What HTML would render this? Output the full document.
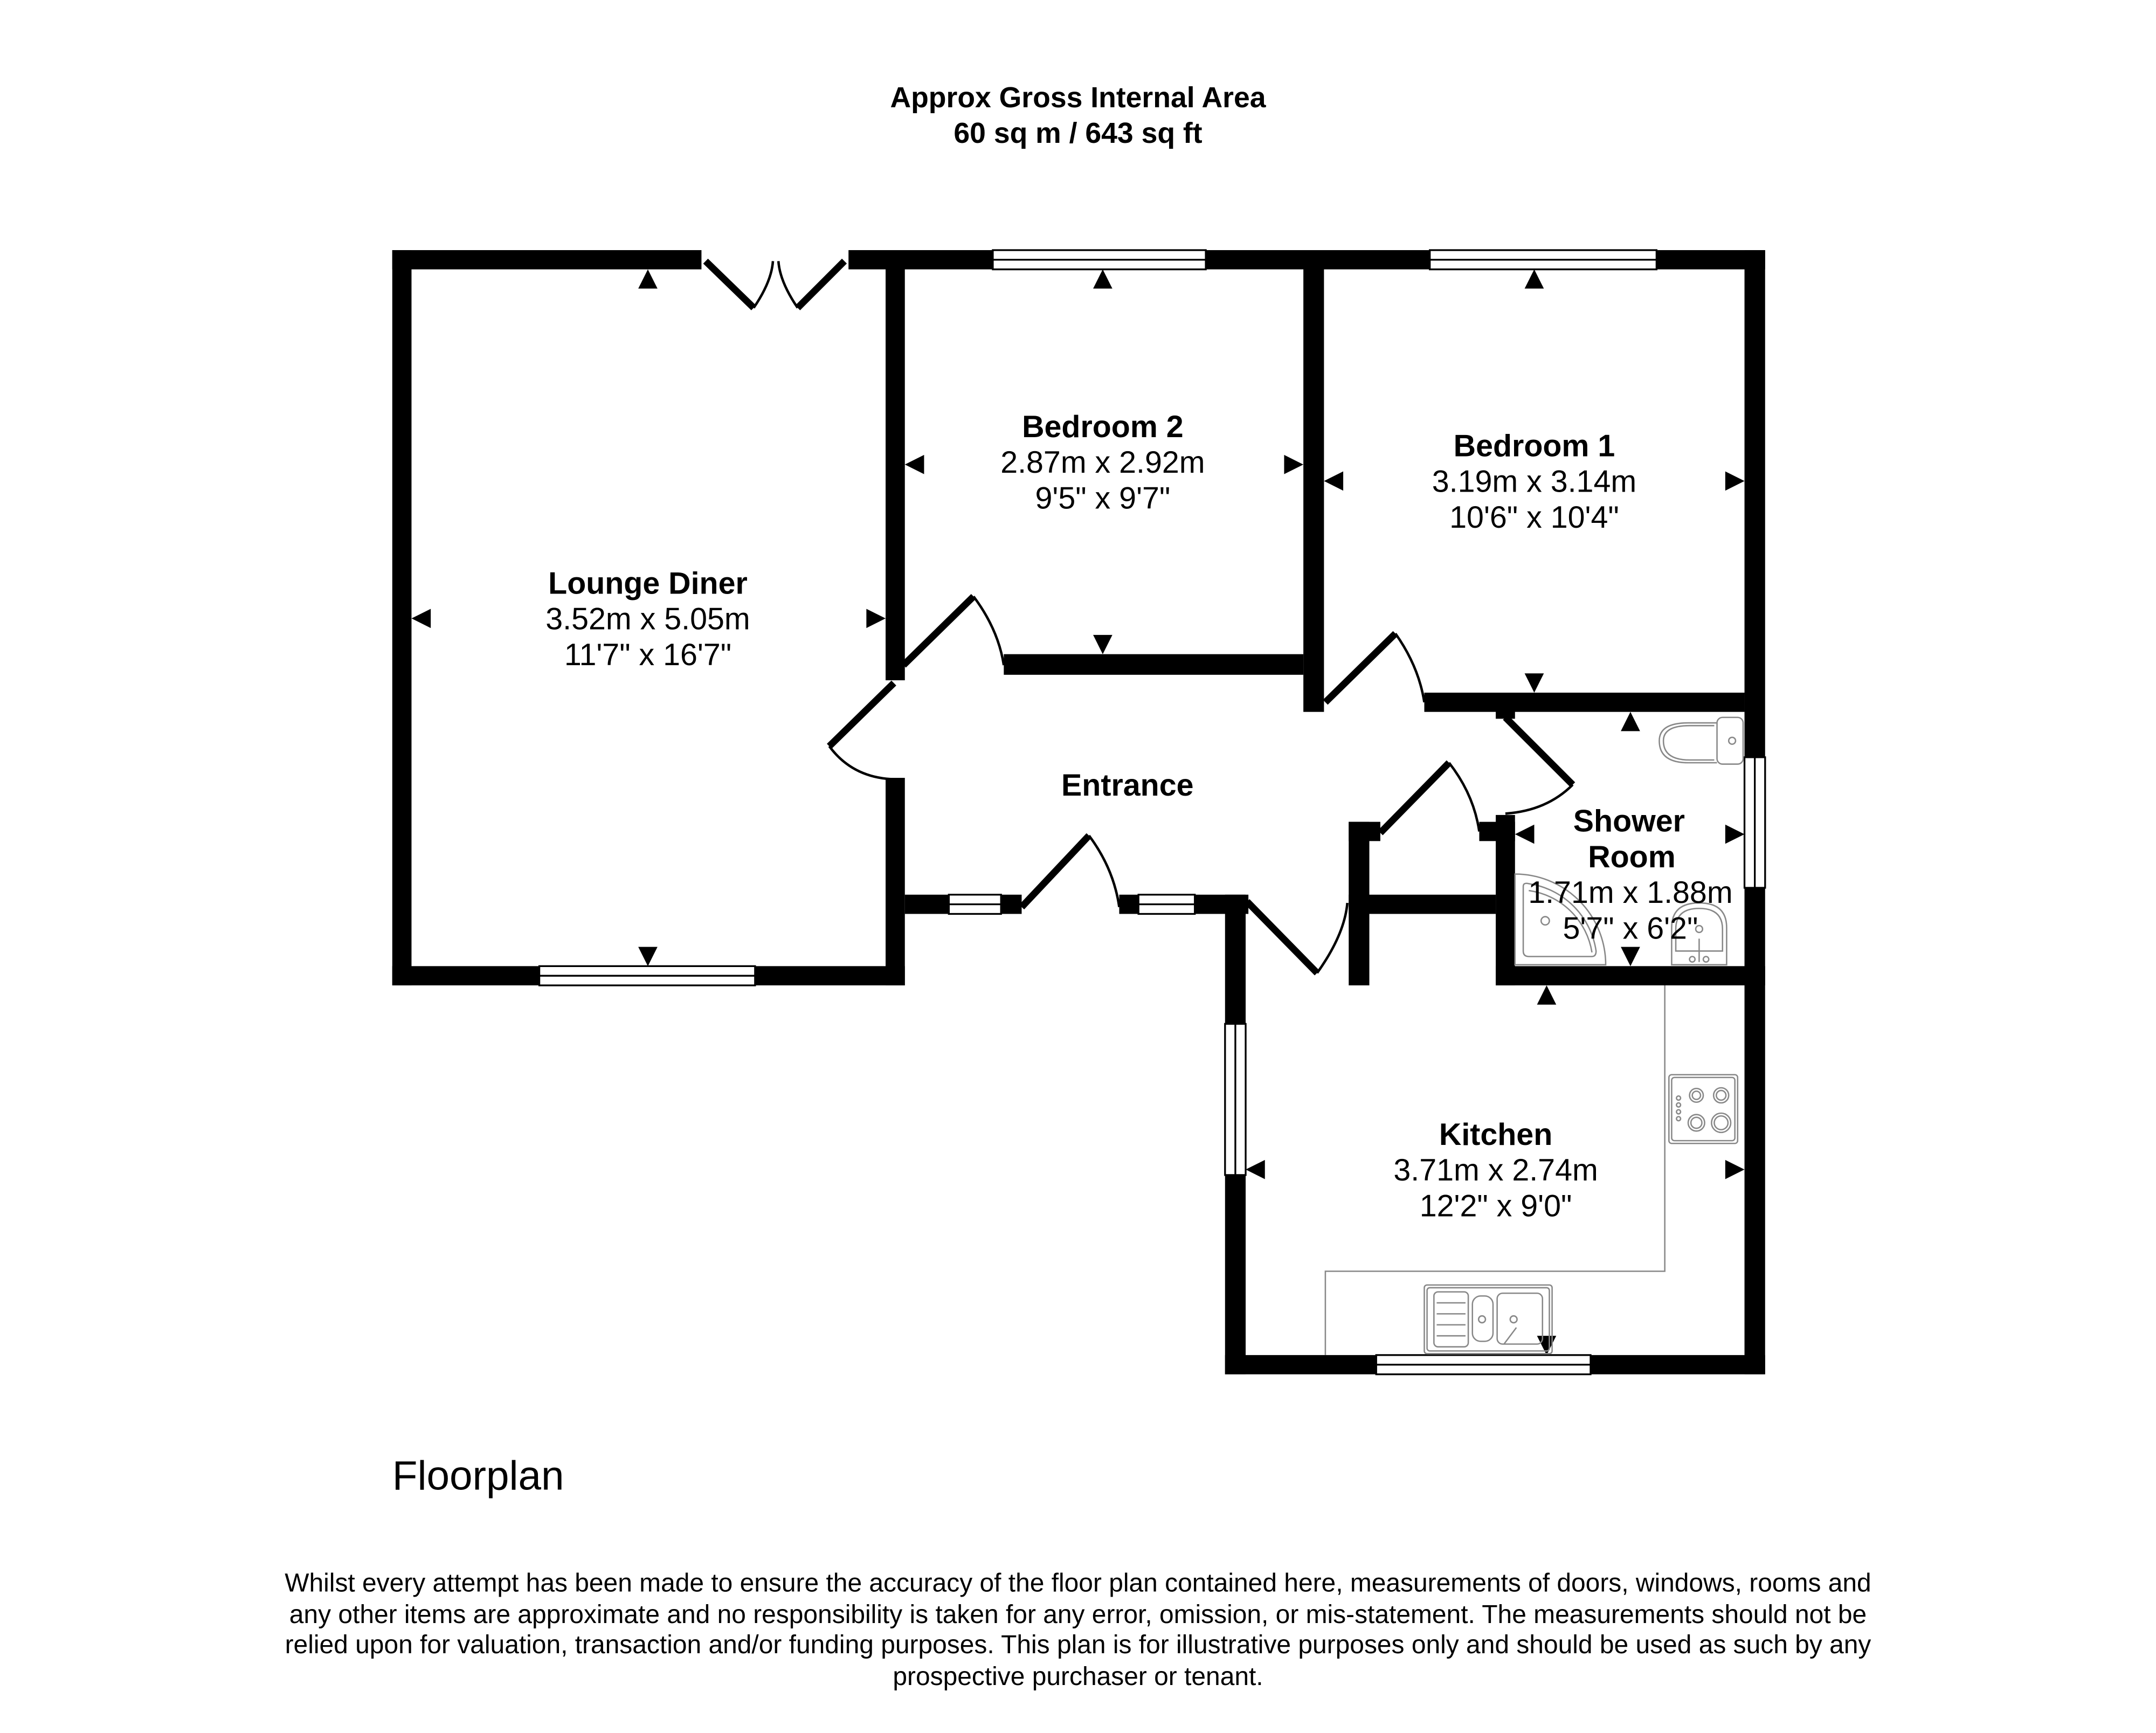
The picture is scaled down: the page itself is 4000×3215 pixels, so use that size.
<!DOCTYPE html>
<html><head><meta charset="utf-8"><style>
html,body{margin:0;padding:0;background:#fff;}
svg{display:block;}
text{font-family:"Liberation Sans",Arial,sans-serif;}
</style></head><body>
<svg width="4000" height="3215" viewBox="0 0 1568 1261" xmlns="http://www.w3.org/2000/svg">
<rect width="1568" height="1261" fill="#fff"/>
<text x="784" y="78" font-size="21" font-weight="bold" text-anchor="middle">Approx Gross Internal Area</text>
<text x="784" y="104" font-size="21" font-weight="bold" text-anchor="middle">60 sq m / 643 sq ft</text>

<g fill="#000">
<rect x="285" y="182" width="225" height="14"/>
<rect x="617" y="182" width="667" height="14"/>
<rect x="285" y="182" width="14" height="535"/>
<rect x="285" y="703" width="373" height="14"/>
<rect x="644" y="189" width="14" height="306"/>
<rect x="644" y="566" width="14" height="151"/>
<rect x="1269" y="182" width="15" height="818"/>
<rect x="948" y="189" width="15" height="329"/>
<rect x="730" y="476" width="218" height="15"/>
<rect x="1036" y="504" width="233" height="14"/>
<rect x="1088" y="517" width="14" height="6"/>
<rect x="658" y="651" width="85" height="14"/>
<rect x="814" y="651" width="94" height="14"/>
<rect x="891" y="651" width="15" height="349"/>
<rect x="891" y="986" width="393" height="14"/>
<rect x="981" y="598" width="15" height="119"/>
<rect x="981" y="598" width="23" height="14"/>
<rect x="981" y="651" width="107" height="14"/>
<rect x="1088" y="593" width="14" height="124"/>
<rect x="1076" y="598" width="26" height="14"/>
<rect x="1088" y="703" width="196" height="14"/>
</g>

<g fill="#fff" stroke="#000" stroke-width="1.3">
<rect x="722" y="182" width="155" height="14"/><line x1="722" y1="189" x2="877" y2="189"/>
<rect x="1040" y="182" width="165" height="14"/><line x1="1040" y1="189" x2="1205" y2="189"/>
<rect x="392" y="703" width="157" height="14"/><line x1="392" y1="710" x2="549" y2="710"/>
<rect x="690" y="651" width="38" height="14"/><line x1="690" y1="658" x2="728" y2="658"/>
<rect x="828" y="651" width="41" height="14"/><line x1="828" y1="658" x2="869" y2="658"/>
<rect x="891" y="745" width="15" height="110"/><line x1="898.5" y1="745" x2="898.5" y2="855"/>
<rect x="1001" y="986" width="156" height="14"/><line x1="1001" y1="993" x2="1157" y2="993"/>
<rect x="1269" y="551" width="15" height="95"/><line x1="1276.5" y1="551" x2="1276.5" y2="646"/>
</g>

<g stroke="#000" fill="none">
<g stroke-width="5">
<line x1="513" y1="190" x2="548" y2="224"/>
<line x1="614" y1="190" x2="580" y2="224"/>
<line x1="657" y1="484" x2="708" y2="434"/>
<line x1="650" y1="497" x2="603" y2="543"/>
<line x1="964" y1="511" x2="1015" y2="461"/>
<line x1="1095" y1="522" x2="1144" y2="571"/>
<line x1="1004" y1="606" x2="1054" y2="555"/>
<line x1="907" y1="656" x2="958" y2="708"/>
<line x1="743" y1="660" x2="792" y2="608"/>
</g>
<g stroke-width="1.8">
<path d="M548 224 Q561 205 562 190"/>
<path d="M580 224 Q567 205 566 190"/>
<path d="M708 434 Q726 458 730 484"/>
<path d="M603 543 Q620 566 650 567"/>
<path d="M1015 461 Q1032 485 1036 511"/>
<path d="M1144 571 Q1125 590 1095 592"/>
<path d="M1054 555 Q1072 578 1076 605"/>
<path d="M958 708 Q978 680 980 657"/>
<path d="M792 608 Q810 632 814 660"/>
</g>
</g>

<g fill="#000">
<polygon points="471,196 464,210 478,210"/>
<polygon points="471,703 464,689 478,689"/>
<polygon points="299,450 313,443 313,457"/>
<polygon points="644,450 630,443 630,457"/>
<polygon points="802,196 795,210 809,210"/>
<polygon points="802,476 795,462 809,462"/>
<polygon points="658,338 672,331 672,345"/>
<polygon points="948,338 934,331 934,345"/>
<polygon points="1116,196 1109,210 1123,210"/>
<polygon points="1116,504 1109,490 1123,490"/>
<polygon points="963,350 977,343 977,357"/>
<polygon points="1269,350 1255,343 1255,357"/>
<polygon points="1186,518 1179,532 1193,532"/>
<polygon points="1186,703 1179,689 1193,689"/>
<polygon points="1102,607 1116,600 1116,614"/>
<polygon points="1269,607 1255,600 1255,614"/>
<polygon points="1125,717 1118,731 1132,731"/>
<polygon points="1125,986 1118,972 1132,972"/>
<polygon points="906,851 920,844 920,858"/>
<polygon points="1269,851 1255,844 1255,858"/>
</g>

<g stroke="#888" stroke-width="1" fill="none">
<polyline points="1211,717 1211,925 964,925 964,986"/>
<rect x="1214" y="782" width="50" height="50" rx="2"/>
<rect x="1216" y="784" width="46" height="46" rx="2"/>
<circle cx="1234" cy="797" r="5"/><circle cx="1234" cy="797" r="3"/>
<circle cx="1252" cy="797" r="5.5"/><circle cx="1252" cy="797" r="3.5"/>
<circle cx="1234" cy="817" r="6"/><circle cx="1234" cy="817" r="4"/>
<circle cx="1252" cy="817" r="7"/><circle cx="1252" cy="817" r="5"/>
<circle cx="1221" cy="799" r="1.5"/><circle cx="1221" cy="804" r="1.5"/><circle cx="1221" cy="809" r="1.5"/><circle cx="1221" cy="814" r="1.5"/>
<rect x="1036" y="935" width="93" height="50" rx="2"/>
<rect x="1038" y="937" width="89" height="46" rx="2"/>
<rect x="1043" y="940" width="25" height="40" rx="3"/>
<line x1="1045" y1="948" x2="1066" y2="948"/><line x1="1045" y1="956" x2="1066" y2="956"/><line x1="1045" y1="964" x2="1066" y2="964"/><line x1="1045" y1="972" x2="1066" y2="972"/>
<rect x="1071" y="943" width="15" height="33" rx="6"/>
<rect x="1089" y="941" width="33" height="37" rx="4"/>
<circle cx="1078" cy="960" r="2.5"/><circle cx="1101" cy="960" r="2.5"/>
<line x1="1094" y1="978" x2="1103" y2="966"/>
<!-- toilet -->
<rect x="1249" y="522" width="19" height="34" rx="4"/>
<path d="M1249 526 L1228 526 Q1207 526 1207 539 Q1207 555 1228 555 L1249 555"/>
<path d="M1247 528 L1229 528 Q1210 528 1210 539 Q1210 553 1229 553 L1247 553"/>
<circle cx="1260" cy="539" r="2.5"/>
<!-- shower tray -->
<path d="M1102 636 A66 66 0 0 1 1168 702 L1102 702 Z"/>
<path d="M1108 645 Q1108 642 1112 643 A58 58 0 0 1 1161 692 Q1161 696 1158 696 L1112 696 Q1108 696 1108 692 Z"/>
<path d="M1112 648 A54 54 0 0 1 1158 693"/>
<circle cx="1124" cy="670" r="3"/>
<!-- basin -->
<path d="M1216 702 L1216 675 Q1216 657 1236 657 Q1256 657 1256 675 L1256 702 Z"/>
<path d="M1219 692 L1219 676 Q1219 661 1236 661 Q1253 661 1253 676 L1253 692 Z"/>
<circle cx="1236" cy="676" r="2.5"/>
<line x1="1236" y1="683" x2="1236" y2="700"/>
<circle cx="1231" cy="698" r="2"/><circle cx="1241" cy="698" r="2"/>
</g>

<g text-anchor="middle" font-size="22.5">
<text x="471" y="432" font-weight="bold">Lounge Diner</text>
<text x="471" y="458">3.52m x 5.05m</text>
<text x="471" y="484">11'7" x 16'7"</text>
<text x="802" y="318" font-weight="bold">Bedroom 2</text>
<text x="802" y="344">2.87m x 2.92m</text>
<text x="802" y="370">9'5" x 9'7"</text>
<text x="1116" y="332" font-weight="bold">Bedroom 1</text>
<text x="1116" y="358">3.19m x 3.14m</text>
<text x="1116" y="384">10'6" x 10'4"</text>
<text x="820" y="579" font-weight="bold">Entrance</text>
<text x="1185" y="605" font-weight="bold">Shower</text>
<text x="1187" y="631" font-weight="bold">Room</text>
<text x="1186" y="657">1.71m x 1.88m</text>
<text x="1186" y="683">5'7" x 6'2"</text>
<text x="1088" y="833" font-weight="bold">Kitchen</text>
<text x="1088" y="859">3.71m x 2.74m</text>
<text x="1088" y="885">12'2" x 9'0"</text>
</g>

<text x="285" y="1084" font-size="30">Floorplan</text>
<g text-anchor="middle" font-size="18.8">
<text x="784" y="1158">Whilst every attempt has been made to ensure the accuracy of the floor plan contained here, measurements of doors, windows, rooms and</text>
<text x="784" y="1181">any other items are approximate and no responsibility is taken for any error, omission, or mis-statement. The measurements should not be</text>
<text x="784" y="1203">relied upon for valuation, transaction and/or funding purposes. This plan is for illustrative purposes only and should be used as such by any</text>
<text x="784" y="1226">prospective purchaser or tenant.</text>
</g>
</svg>
</body></html>
